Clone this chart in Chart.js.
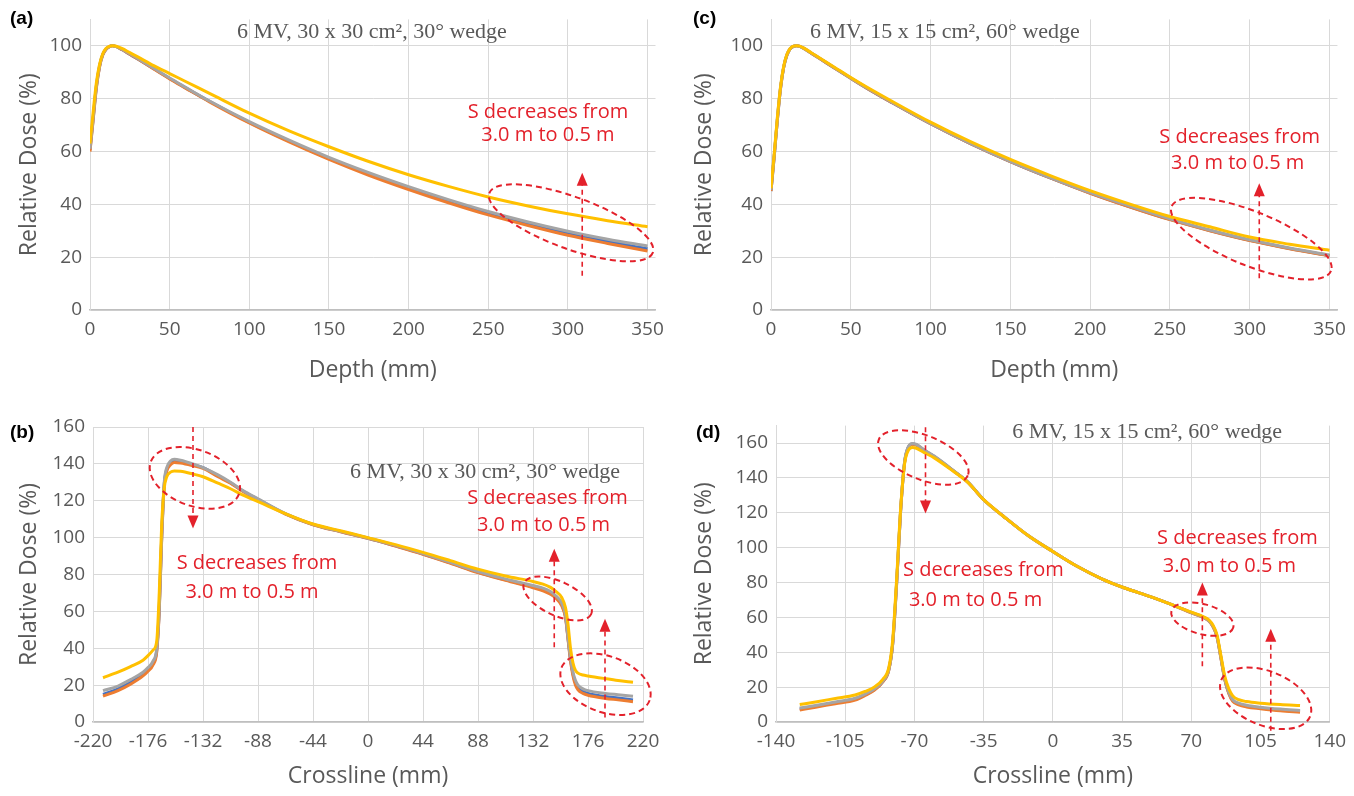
<!DOCTYPE html>
<html>
<head>
<meta charset="utf-8">
<script src="https://cdn.jsdelivr.net/npm/chart.js@4.4.1/dist/chart.umd.min.js"></script>
<style>
  body { margin: 0; background: #fff; width: 1354px; height: 796px; position: relative; overflow: hidden; }
  .panel { position: absolute; }
  .tag { position: absolute; font: bold 19px "Liberation Sans", Arial, sans-serif; color: #000; }
</style>
</head>
<body>
<div class="panel" style="left:0;top:0"><canvas id="ca" width="675" height="392"></canvas></div>
<div class="panel" style="left:680px;top:0"><canvas id="cc" width="674" height="392"></canvas></div>
<div class="panel" style="left:0;top:395px"><canvas id="cb" width="675" height="401"></canvas></div>
<div class="panel" style="left:680px;top:395px"><canvas id="cd" width="674" height="401"></canvas></div>
<div class="tag" style="left:10px;top:7px">(a)</div>
<div class="tag" style="left:693px;top:7px">(c)</div>
<div class="tag" style="left:10px;top:421px">(b)</div>
<div class="tag" style="left:696px;top:421px">(d)</div>
<script>
// ---- data ----
const depthTicks = [0, 50, 100, 150, 200, 250, 300, 350];
const pddTicks = [0, 20, 40, 60, 80, 100];
const crossTicksB = [-220, -176, -132, -88, -44, 0, 44, 88, 132, 176, 220];
const crossTicksD = [-140, -105, -70, -35, 0, 35, 70, 105, 140];
const profTicks = [0, 20, 40, 60, 80, 100, 120, 140, 160];

// (a) 6 MV, 30x30, 30 deg wedge - depth dose
const depthA = [0, 2, 4, 6, 8, 10, 12, 14, 16, 20, 25, 30, 40, 50, 60, 75, 100, 125, 150, 175, 200, 225, 250, 275, 300, 325, 350];
const blueA = [60.5, 72.5, 84.4, 92.2, 96.6, 98.7, 99.6, 100, 99.8, 98.6, 96.8, 95, 91.3, 87.6, 84.1, 79, 71, 63.9, 57.3, 51.4, 46, 41.1, 36.6, 32.6, 29, 25.9, 23.2];
const orangeA = [60, 72, 84, 92, 96.5, 98.6, 99.6, 100, 99.8, 98.6, 96.8, 95, 91.2, 87.5, 84, 78.8, 70.8, 63.6, 57, 51, 45.6, 40.6, 36, 32, 28.3, 25.2, 22.3];
const grayA = [61, 73, 85, 92.5, 96.8, 98.8, 99.7, 100, 99.8, 98.7, 97, 95.2, 91.5, 87.8, 84.3, 79.1, 71.3, 64.3, 57.8, 52, 46.7, 41.8, 37.3, 33.3, 29.8, 26.8, 24.2];
const yellowA = [63, 75, 86, 93, 97, 99, 99.8, 100, 99.9, 99, 97.4, 95.8, 92.5, 89.5, 86.5, 82, 74.5, 67.8, 61.8, 56.2, 51.2, 46.8, 42.8, 39.4, 36.4, 33.8, 31.5];

// (c) 6 MV, 15x15, 60 deg wedge - depth dose
const depthC = [0, 2, 4, 6, 8, 10, 12, 14, 16, 18, 20, 25, 30, 40, 50, 60, 75, 100, 125, 150, 175, 200, 225, 250, 275, 300, 325, 350];
const blueC = [45, 58, 72, 84, 92, 96.5, 98.8, 99.8, 100, 99.8, 99.2, 97.3, 95.4, 91.5, 87.7, 84, 78.8, 70.5, 63, 56.2, 50, 44.3, 39.1, 34.3, 30.1, 26.4, 23.3, 20.6];
const orangeC = [45, 58, 72, 84, 92, 96.5, 98.8, 99.8, 100, 99.8, 99.2, 97.3, 95.4, 91.5, 87.7, 84, 78.8, 70.5, 63, 56.2, 50, 44.2, 39, 34.2, 30, 26.3, 23.2, 20.5];
const grayC = [45.5, 58.5, 72.5, 84.3, 92.2, 96.6, 98.9, 99.8, 100, 99.8, 99.2, 97.4, 95.5, 91.6, 87.8, 84.1, 78.9, 70.6, 63.1, 56.3, 50.1, 44.4, 39.3, 34.5, 30.3, 26.6, 23.5, 20.8];
const yellowC = [46, 59, 73, 84.6, 92.4, 96.8, 99, 99.9, 100, 99.9, 99.3, 97.5, 95.6, 91.8, 88, 84.4, 79.3, 71.1, 63.7, 57, 50.9, 45.2, 40.1, 35.4, 31.5, 27.6, 24.9, 22.6];

// (b) 6 MV, 30x30, 30 deg wedge - crossline profile
const crossB = [-212, -200, -190, -180, -176, -172, -169, -167, -165, -163, -161, -158, -155, -150, -140, -132, -120, -110, -100, -88, -66, -44, -22, 0, 22, 44, 66, 88, 110, 132, 140, 146, 150, 155, 158, 160, 162, 164, 166, 168, 172, 176, 190, 200, 212];
const blueB = [15, 18, 21.5, 26, 28.5, 32, 39, 61, 101, 129, 137, 140.5, 141.8, 141.5, 139.5, 138, 133.5, 129.8, 125.3, 120.8, 112.9, 107.1, 103.3, 99.7, 95.5, 91.1, 86.3, 81.2, 77.1, 73.3, 71.9, 70, 67.9, 63.7, 57.2, 45.5, 34, 26, 21, 18.5, 16.5, 15.5, 13.8, 13, 12];
const orangeB = [14, 17, 20.5, 25, 27.5, 31, 38, 60, 100, 128, 136, 139.5, 140.8, 140.5, 139, 137.5, 133, 129.5, 125, 120.5, 112.8, 107, 103.2, 99.6, 95.4, 91, 86.1, 81, 76.8, 72.8, 71.2, 69.3, 67.3, 63, 56.5, 45, 33, 25, 20, 17.5, 15.5, 14.5, 12.8, 12, 11];
const grayB = [17, 19.5, 23, 27, 29.5, 33, 40, 62, 102, 130, 138, 141.5, 142.5, 142, 140, 138, 134, 130, 125.5, 121, 113, 107.2, 103.4, 99.8, 95.8, 91.4, 86.6, 81.6, 77.6, 74, 72.6, 70.8, 68.6, 64.5, 58, 46, 35, 27, 22.5, 20, 18, 17, 15.5, 14.8, 14];
const yellowB = [24, 27, 30, 33.5, 36, 39, 44, 70, 108, 127, 133, 135.5, 136.2, 136, 134.5, 133, 129.5, 126.5, 123, 119.5, 113, 107.4, 103.7, 100, 96.2, 92, 87.5, 82.9, 79.2, 76.2, 74.8, 73, 71, 67.5, 62, 53, 40, 32, 28, 26.5, 25.5, 25, 23.5, 22.5, 21.5];

// (d) 6 MV, 15x15, 60 deg wedge - crossline profile
const crossD = [-128, -120, -110, -100, -95, -90, -86, -83, -81, -79, -77, -75, -73, -71, -69, -65, -60, -50, -43, -35, -25, -12, 0, 12, 25, 36, 50, 62, 70, 76, 79, 81, 83, 85, 87, 89, 91, 94, 98, 105, 115, 125];
const blueD = [7.4, 9, 11, 13.1, 15.6, 18.8, 23.2, 29.8, 44.8, 79.5, 120.8, 148.8, 157.8, 159.5, 159, 155.8, 152.3, 143.9, 137.6, 127.5, 118, 106.5, 97.8, 89.5, 82, 77, 71.6, 66.5, 62.7, 60.1, 57.9, 54.8, 49, 36.8, 24.2, 16.6, 12.3, 10.3, 9.1, 8, 6.9, 6.1];
const orangeD = [6.8, 8.5, 10.5, 12.6, 15.2, 18.5, 23, 29.5, 44.5, 79, 120.5, 148.5, 157.5, 159.3, 158.8, 155.7, 152.2, 143.8, 137.5, 127.5, 118, 106.5, 97.8, 89.5, 82, 77, 71.6, 66.5, 62.6, 60, 57.8, 54.6, 48.8, 36.5, 24, 16.2, 11.8, 9.8, 8.6, 7.6, 6.4, 5.6];
const grayD = [8, 9.5, 11.5, 13.6, 16, 19.2, 23.5, 30, 45, 80, 121, 149, 158, 159.8, 159.2, 156, 152.5, 144, 137.7, 127.5, 118, 106.5, 97.8, 89.5, 82, 77, 71.6, 66.5, 62.8, 60.2, 58, 55, 49.2, 37, 24.5, 17, 12.8, 10.8, 9.6, 8.5, 7.4, 6.6];
const yellowD = [10, 11.5, 13.5, 15.5, 17.5, 20.3, 24.5, 31, 47, 82, 122, 148, 156, 157.5, 157, 154.5, 151.5, 143.5, 137.4, 127.5, 118, 106.5, 97.8, 89.5, 82, 77, 71.6, 66.5, 63, 60.5, 58.5, 55.5, 50, 38, 26, 19, 15, 12.8, 11.7, 10.8, 10, 9.5];

const lineColors = ['#4472C4', '#ED7D31', '#A5A5A5', '#FFC000'];
const RED = '#e3212b';
const GREY_TXT = '#595959';

// draws the in-plot caption, red notes, dashed ellipses and arrows
const notesPlugin = {
  id: 'notes',
  afterDatasetsDraw(chart, args, opts) {
    const { ctx } = chart;
    const x = chart.scales.x, y = chart.scales.y;
    ctx.save();
    ctx.strokeStyle = RED;
    ctx.fillStyle = RED;
    ctx.lineWidth = 2;
    ctx.setLineDash([6, 4]);
    (opts.ellipses || []).forEach(e => {
      ctx.beginPath();
      ctx.ellipse(x.getPixelForValue(e.x), y.getPixelForValue(e.y), e.rx, e.ry, e.rot * Math.PI / 180, 0, Math.PI * 2);
      ctx.stroke();
    });
    (opts.arrows || []).forEach(a => {
      const px = x.getPixelForValue(a.x);
      const y0 = y.getPixelForValue(a.from), y1 = y.getPixelForValue(a.to);
      const dir = Math.sign(y1 - y0);
      ctx.lineWidth = 1.6;
      ctx.setLineDash([5, 4]);
      ctx.beginPath();
      ctx.moveTo(px, y0);
      ctx.lineTo(px, y1 - dir * 10);
      ctx.stroke();
      ctx.setLineDash([]);
      ctx.beginPath();
      ctx.moveTo(px, y1);
      ctx.lineTo(px - 5.5, y1 - dir * 13);
      ctx.lineTo(px + 5.5, y1 - dir * 13);
      ctx.closePath();
      ctx.fill();
    });
    ctx.textAlign = 'center';
    ctx.textBaseline = 'middle';
    ctx.font = '20px "Open Sans"';
    (opts.texts || []).forEach(t => {
      ctx.fillText(t.text, x.getPixelForValue(t.x), y.getPixelForValue(t.y));
    });
    if (opts.caption) {
      ctx.fillStyle = GREY_TXT;
      ctx.font = '22px "Liberation Serif"';
      ctx.fillText(opts.caption.text, x.getPixelForValue(opts.caption.x), y.getPixelForValue(opts.caption.y));
    }
    ctx.restore();
  }
};

function makeChart(id, xs, series, cfg) {
  const datasets = series.map((ys, i) => ({
    data: xs.map((v, k) => ({ x: v, y: ys[k] })),
    borderColor: lineColors[i],
    borderWidth: 3,
    pointRadius: 0,
    cubicInterpolationMode: 'monotone',
    order: series.length - i
  }));
  return new Chart(document.getElementById(id), {
    type: 'line',
    data: { datasets },
    plugins: [notesPlugin],
    options: {
      responsive: false,
      animation: false,
      layout: { padding: cfg.pad },
      plugins: { legend: { display: false }, tooltip: { enabled: false }, notes: cfg.notes },
      scales: {
        x: {
          type: 'linear', min: cfg.xMin, max: cfg.xMax,
          afterBuildTicks: s => { s.ticks = cfg.xTicks.map(v => ({ value: v })); },
          afterFit: s => { s.height = cfg.xHeight; },
          grid: { color: '#d9d9d9', drawTicks: false },
          border: { color: '#bfbfbf', width: 1.5 },
          ticks: { color: GREY_TXT, font: { family: 'Open Sans', size: 19 }, padding: 8, maxRotation: 0, autoSkip: false },
          title: { display: true, text: cfg.xTitle, color: GREY_TXT, font: { family: 'Open Sans', size: 23 }, padding: { top: 0, bottom: cfg.xTitlePad } }
        },
        y: {
          min: 0, max: cfg.yMax,
          afterBuildTicks: s => { s.ticks = cfg.yTicks.map(v => ({ value: v })); },
          afterFit: s => { s.width = cfg.yWidth; },
          grid: { color: '#d9d9d9', drawTicks: false },
          border: { color: '#d9d9d9' },
          ticks: { color: GREY_TXT, font: { family: 'Open Sans', size: 19 }, padding: 8 },
          title: { display: true, text: 'Relative Dose (%)', color: GREY_TXT, font: { family: 'Open Sans', size: 23 }, padding: { top: cfg.yTitlePad, bottom: 0 } }
        }
      }
    }
  });
}

const decreaseText = ['S decreases from', '3.0 m to 0.5 m'];

makeChart('ca', depthA, [blueA, orangeA, grayA, yellowA], {
  xMin: 0, xMax: 355, xTicks: depthTicks, yMax: 110, yTicks: pddTicks,
  pad: { left: 0, top: 6.5, right: 19.5, bottom: 0 }, yWidth: 90, xHeight: 82,
  xTitle: 'Depth (mm)', xTitlePad: 8, yTitlePad: 16,
  notes: {
    caption: { text: '6 MV, 30 x 30 cm², 30° wedge', x: 177, y: 105 },
    texts: [{ text: decreaseText[0], x: 287.5, y: 75 }, { text: decreaseText[1], x: 287.5, y: 66 }],
    ellipses: [{ x: 302, y: 33, rx: 87, ry: 26, rot: 20 }],
    arrows: [{ x: 309, from: 13, to: 52 }]
  }
});

makeChart('cc', depthC, [blueC, orangeC, grayC, yellowC], {
  xMin: 0, xMax: 355, xTicks: depthTicks, yMax: 110, yTicks: pddTicks,
  pad: { left: 0, top: 6.5, right: 16, bottom: 0 }, yWidth: 91, xHeight: 82,
  xTitle: 'Depth (mm)', xTitlePad: 8, yTitlePad: 11,
  notes: {
    caption: { text: '6 MV, 15 x 15 cm², 60° wedge', x: 109, y: 105 },
    texts: [{ text: decreaseText[0], x: 293.7, y: 65.2 }, { text: decreaseText[1], x: 292.5, y: 55.4 }],
    ellipses: [{ x: 301, y: 27, rx: 86, ry: 27, rot: 22 }],
    arrows: [{ x: 306, from: 12, to: 48 }]
  }
});

makeChart('cb', crossB, [blueB, orangeB, grayB, yellowB], {
  xMin: -220, xMax: 220, xTicks: crossTicksB, yMax: 160, yTicks: profTicks,
  pad: { left: 0, top: 32, right: 32, bottom: 0 }, yWidth: 93, xHeight: 74,
  xTitle: 'Crossline (mm)', xTitlePad: 6, yTitlePad: 16,
  notes: {
    caption: { text: '6 MV, 30 x 30 cm², 30° wedge', x: 93.6, y: 135.6 },
    texts: [
      { text: decreaseText[0], x: -88.8, y: 86.2 }, { text: decreaseText[1], x: -92.8, y: 70.5 },
      { text: decreaseText[0], x: 143.6, y: 121.5 }, { text: decreaseText[1], x: 140.4, y: 106.8 }
    ],
    ellipses: [
      { x: -138.5, y: 132.4, rx: 47, ry: 28, rot: 20 },
      { x: 151.7, y: 67, rx: 37, ry: 17, rot: 25 },
      { x: 190, y: 20.5, rx: 47, ry: 28, rot: 20 }
    ],
    arrows: [
      { x: -140, from: 160, to: 105 },
      { x: 149, from: 40.5, to: 94 },
      { x: 189.6, from: 2.4, to: 56 }
    ]
  }
});

makeChart('cd', crossD, [blueD, orangeD, grayD, yellowD], {
  xMin: -140, xMax: 140, xTicks: crossTicksD, yMax: 170, yTicks: profTicks,
  pad: { left: 0, top: 30.6, right: 20, bottom: 0 }, yWidth: 96, xHeight: 74,
  xTitle: 'Crossline (mm)', xTitlePad: 6, yTitlePad: 11,
  notes: {
    caption: { text: '6 MV, 15 x 15 cm², 60° wedge', x: 47.7, y: 166 },
    texts: [
      { text: decreaseText[0], x: -35.1, y: 87.2 }, { text: decreaseText[1], x: -39.1, y: 70 },
      { text: decreaseText[0], x: 93.3, y: 105.5 }, { text: decreaseText[1], x: 89.3, y: 89.5 }
    ],
    ellipses: [
      { x: -65.5, y: 151.7, rx: 48, ry: 22, rot: 22 },
      { x: 75.6, y: 59, rx: 32, ry: 15, rot: 15 },
      { x: 107.6, y: 13.6, rx: 48, ry: 27, rot: 22 }
    ],
    arrows: [
      { x: -64.4, from: 169, to: 119.6 },
      { x: 75.6, from: 32, to: 80 },
      { x: 110.2, from: -5, to: 53.5 }
    ]
  }
});
</script>
</body>
</html>
